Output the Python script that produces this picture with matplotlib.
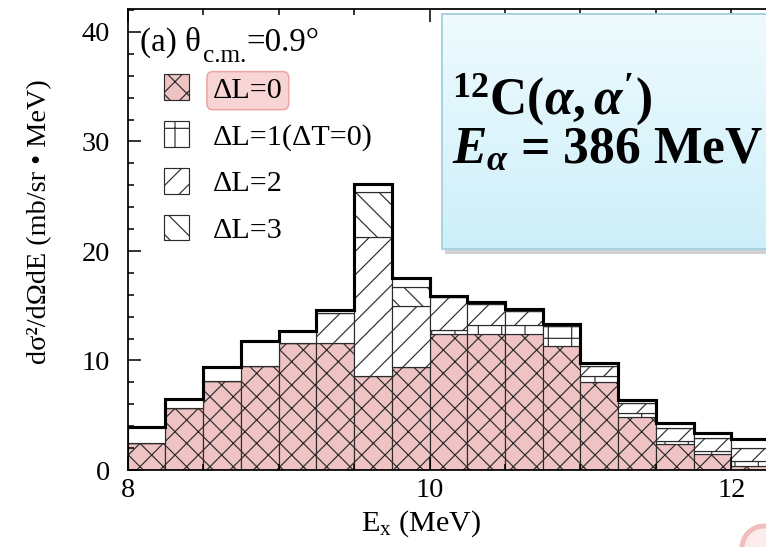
import numpy as np
import matplotlib
matplotlib.use('Agg')
import matplotlib.pyplot as plt
from matplotlib.ticker import MultipleLocator
from matplotlib.patches import Rectangle, Ellipse
from matplotlib.colors import LinearSegmentedColormap

plt.rcParams['font.family'] = ['Liberation Serif', 'DejaVu Serif']
plt.rcParams['mathtext.fontset'] = 'custom'
plt.rcParams['mathtext.rm'] = 'Liberation Serif:bold'
plt.rcParams['mathtext.it'] = 'Liberation Serif:bold:italic'
plt.rcParams['mathtext.bf'] = 'Liberation Serif:bold'
plt.rcParams['hatch.linewidth'] = 0.6

# E_x bins (left edges, MeV), width 0.25
bin_lo = [8.00, 8.25, 8.50, 8.75, 9.00, 9.25, 9.50, 9.75, 10.00,
          10.25, 10.50, 10.75, 11.00, 11.25, 11.50, 11.75, 12.00]
bin_w = 0.25
# stacked components (mb/sr MeV)
dl0 = [2.5, 5.7, 8.1, 9.5, 11.6, 11.6, 8.6, 9.4, 12.4, 12.4, 12.4, 11.35, 8.0, 4.8, 2.4, 1.45, 0.37]
dl1 = [0, 0, 0, 0, 0, 0, 0, 0, 0.4, 0.8, 0.8, 1.8, 0.6, 0.45, 0.25, 0.3, 0.45]
dl2 = [0, 0, 0, 0, 0, 2.7, 12.7, 5.6, 3.0, 2.0, 1.3, 0, 0.9, 0.9, 1.2, 1.2, 1.2]
dl3 = [0, 0, 0, 0, 0, 0, 4.1, 1.7, 0, 0, 0, 0, 0, 0, 0, 0, 0]
total = [3.9, 6.5, 9.4, 11.8, 12.7, 14.6, 26.1, 17.5, 15.9, 15.3, 14.7, 13.3, 9.8, 6.4, 4.3, 3.35, 2.8]

pink = '#efc3c3'
edge = '#2b2b2b'

fig = plt.figure(figsize=(766 / 140, 547.01 / 140), dpi=140)
W, H = 766.0, 547.0
ax = fig.add_axes([127.5 / W, (H - 470) / H, (800 - 127.5) / W, (470 - 9) / H])

b0 = np.array(dl0)
b1 = b0 + np.array(dl1)
b2 = b1 + np.array(dl2)
b3 = b2 + np.array(dl3)
rest = np.array(total) - b3

ax.bar(bin_lo, dl0, width=bin_w, align='edge', color=pink, edgecolor=edge,
       hatch='xx', linewidth=0.6, label='ΔL=0')
ax.bar(bin_lo, dl1, width=bin_w, align='edge', bottom=b0, color='white',
       edgecolor=edge, hatch='+', linewidth=0.6, label='ΔL=1(ΔT=0)')
ax.bar(bin_lo, dl2, width=bin_w, align='edge', bottom=b1, color='white',
       edgecolor=edge, hatch='//', linewidth=0.6, label='ΔL=2')
ax.bar(bin_lo, dl3, width=bin_w, align='edge', bottom=b2, color='white',
       edgecolor=edge, hatch='\\\\', linewidth=0.6, label='ΔL=3')
ax.bar(bin_lo, rest, width=bin_w, align='edge', bottom=b3, color='white',
       edgecolor=edge, linewidth=0.6)
edges = list(bin_lo) + [bin_lo[-1] + bin_w]
ax.stairs(total, edges, baseline=None, color='black', linewidth=1.6)

ax.set_xlim(8, 8 + (800 - 127.5) / 151.0)
ax.set_ylim(0, 42.1)
ax.set_xticks([8, 10, 12])
ax.set_yticks([0, 10, 20, 30, 40])
ax.xaxis.set_minor_locator(MultipleLocator(0.5))
ax.yaxis.set_minor_locator(MultipleLocator(2))
ax.tick_params(which='both', direction='in', top=True, right=False, labelsize=14.5)
ax.tick_params(which='major', length=6.7, width=0.8)
ax.tick_params(which='minor', length=3.2, width=0.8)
ax.tick_params(axis='y', pad=9)
ax.tick_params(axis='x', pad=4)
for s in ax.spines.values():
    s.set_linewidth(0.9)
ax.spines['right'].set_visible(False)

leg = ax.legend(loc='upper left', bbox_to_anchor=(0.054, 0.858), frameon=False,
                fontsize=15.5, handlelength=0.83, handleheight=0.93,
                handletextpad=0.8, labelspacing=0.58, borderpad=0, borderaxespad=0)
leg.get_texts()[0].set_bbox(dict(boxstyle='round,pad=0.2', facecolor='#f8d4d4',
                                 edgecolor='#eaa6a6', linewidth=0.8))

# "(a) theta_c.m.=0.9°" built from three pieces
fig.canvas.draw()
rend = fig.canvas.get_renderer()
t_a = fig.text(140 / W, 1 - 51 / H, '(a) θ', fontsize=17, va='baseline', ha='left')
x1 = t_a.get_window_extent(rend).x1
t_cm = fig.text((x1 + 2) / W, 1 - 62 / H, 'c.m.', fontsize=13, va='baseline', ha='left')
x2 = t_cm.get_window_extent(rend).x1
fig.text(x2 / W, 1 - 51 / H, '=0.9°', fontsize=17, va='baseline', ha='left')

fig.text(40 / W, 1 - 222 / H, 'dσ²/dΩdE (mb/sr • MeV)', rotation=90,
         ha='center', va='center', fontsize=14.5)
fig.text(421 / W, 1 - 531 / H, r'$\mathregular{E_x}$ (MeV)', ha='center',
         va='baseline', fontsize=15.5)

# info box with light blue gradient
bx0, by0, bx1, by1 = 442, 14, 767, 249
shadow = Rectangle(((bx0 + 3) / W, 1 - (by1 + 5) / H), (bx1 - bx0) / W, (by1 - by0) / H,
                   transform=fig.transFigure, facecolor='#9a9a9a', alpha=0.45,
                   edgecolor='none', zorder=1)
fig.add_artist(shadow)
bax = fig.add_axes([bx0 / W, 1 - by1 / H, (bx1 - bx0) / W, (by1 - by0) / H], zorder=2)
grad = np.linspace(0, 1, 100).reshape(-1, 1)
cmap = LinearSegmentedColormap.from_list('sky', ['#cdeff9', '#effbfe'])
bax.imshow(grad, aspect='auto', cmap=cmap, origin='lower', extent=[0, 1, 0, 1])
bax.set_xticks([])
bax.set_yticks([])
for s in bax.spines.values():
    s.set_color('#a6d3e2')
    s.set_linewidth(1.0)

fig.text(452 / W, 1 - 114 / H, r'$^{12}$C($\alpha,\alpha^{\prime}$)', fontsize=26.5,
         fontweight='bold', va='baseline', ha='left', zorder=5)
fig.text(452 / W, 1 - 163 / H, r'$E_{\alpha}$ = 386 MeV', fontsize=26.5,
         fontweight='bold', va='baseline', ha='left', zorder=5)

# slide decoration at bottom right
fig.add_artist(Ellipse((764 / W, 1 - 548 / H), 44 / W, 44 / H, transform=fig.transFigure,
                       facecolor='#fcecec', edgecolor='#f3bcbc', linewidth=2.5))

fig.savefig('out.png', dpi=140)
